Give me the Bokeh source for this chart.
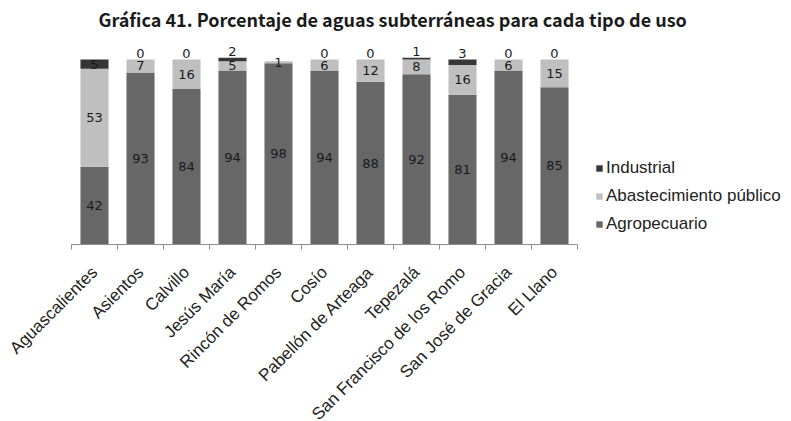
import math
from bokeh.plotting import figure
from bokeh.models import ColumnDataSource, Range1d, FixedTicker, Legend, LegendItem
from bokeh.embed import file_html
from bokeh.resources import INLINE
from bokeh.core.properties import value

# ---- data ----
municipios = ["Aguascalientes", "Asientos", "Calvillo", "Jesús María", "Rincón de Romos",
              "Cosío", "Pabellón de Arteaga", "Tepezalá", "San Francisco de los Romo",
              "San José de Gracia", "El Llano"]
agropecuario = [42, 93, 84, 94, 98, 94, 88, 92, 81, 94, 85]
abastecimiento = [53, 7, 16, 5, 1, 6, 12, 8, 16, 6, 15]
industrial = [5, 0, 0, 2, 0, 0, 0, 1, 3, 0, 0]
industrial_labels = ["5", "0", "0", "2", "", "0", "0", "1", "3", "0", "0"]
series = ["Agropecuario", "Abastecimiento público", "Industrial"]
colors = ["#676767", "#bfbfbf", "#363636"]
title = "Gráfica 41. Porcentaje de aguas subterráneas para cada tipo de uso"

n = len(municipios)
xs = list(range(n))

LEFT, TOP, FRAME_W, FRAME_H, BOTTOM = 71, 35, 506, 209, 172

src = ColumnDataSource(dict(x=xs, agro=agropecuario, abast=abastecimiento, ind=industrial))

p = figure(frame_width=FRAME_W, frame_height=FRAME_H, output_backend="svg", toolbar_location=None,
           x_range=Range1d(-0.5, n - 0.5), y_range=Range1d(0, 112.97),
           min_border_left=LEFT, min_border_right=200, min_border_top=TOP,
           min_border_bottom=BOTTOM, title=title)
p.outline_line_color = None
p.xgrid.visible = False
p.ygrid.visible = False
p.yaxis.visible = False

p.title.align = "left"
p.title.offset = 27
p.title.standoff = 7
p.title.text_font = "Noto Sans CJK KR"
p.title.text_font_size = "18px"
p.title.text_font_style = "bold"
p.title.text_color = "#1a1a1a"

rs = p.vbar_stack(["agro", "abast", "ind"], x="x", width=0.61, source=src,
                  fill_color=colors, line_color=None)

# value labels
lab_x, lab_y, lab_t = [], [], []
for i in range(n):
    a, b, c = agropecuario[i], abastecimiento[i], industrial[i]
    lab_x += [i, i]
    lab_y += [a / 2, a + b / 2]
    lab_t += [str(a), str(b)]
    if industrial_labels[i]:
        lab_x.append(i)
        lab_y.append(a + b + c / 2 if c >= 4 else a + b + c + 3.5)
        lab_t.append(industrial_labels[i])
lsrc = ColumnDataSource(dict(x=lab_x, y=lab_y, t=lab_t))
p.text(x="x", y="y", text="t", source=lsrc, text_align="center", text_baseline="middle",
       text_font=value("DejaVu Sans"), text_font_size="13px", text_color="#1a1a1a")

# x axis
xa = p.xaxis[0]
xa.ticker = FixedTicker(ticks=xs, minor_ticks=[i - 0.5 for i in range(n + 1)])
xa.major_label_overrides = {i: m for i, m in enumerate(municipios)}
xa.major_label_orientation = math.pi / 4
xa.major_label_text_font = "Liberation Sans"
xa.major_label_text_font_size = "17px"
xa.major_label_text_color = "#222222"
xa.major_label_standoff = 20
xa.major_tick_line_color = None
xa.major_tick_in = 0
xa.major_tick_out = 0
xa.minor_tick_in = 0
xa.minor_tick_out = 5
xa.minor_tick_line_color = "#8c8c8c"
xa.axis_line_color = "#8c8c8c"

# legend
items = [LegendItem(label=series[2], renderers=[rs[2]]),
         LegendItem(label=series[1], renderers=[rs[1]]),
         LegendItem(label=series[0], renderers=[rs[0]])]
leg = Legend(items=items, location=(18, 10), border_line_color=None, background_fill_alpha=0,
             padding=0, margin=0, spacing=8, glyph_width=8, glyph_height=8, label_height=20,
             label_standoff=3, label_text_font="Liberation Sans", label_text_font_size="17px",
             label_text_color="#222222")
p.add_layout(leg, "right")

open("out.html", "w").write(file_html(p, INLINE))
